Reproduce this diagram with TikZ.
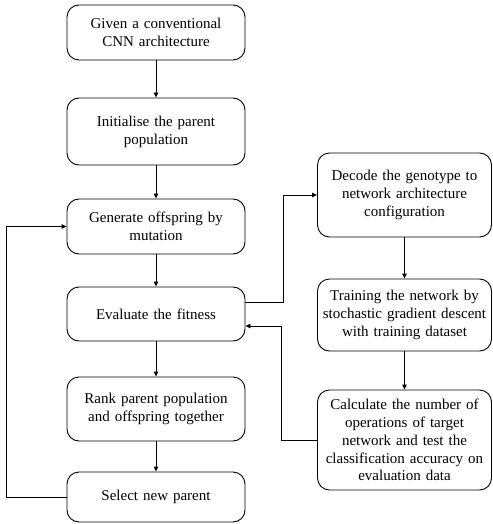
\documentclass[tikz,border=0pt]{standalone}
\usepackage{fontspec}
\setmainfont{Liberation Serif}
\usepackage{tikz}
\usetikzlibrary{calc, arrows.meta, positioning}

\tikzset{
    flowbox/.style={draw, line width=0.9pt, rounded corners=12pt, align=center,
        font=\fontsize{15}{17.8}\selectfont, inner sep=2pt},
    leftbox/.style={flowbox, minimum width=178pt, text width=172pt},
    rightbox/.style={flowbox, minimum width=173pt, text width=170pt},
    arr/.style={line width=0.9pt, -{Triangle[length=5pt, width=4.5pt]}}
}

\begin{document}
\begin{tikzpicture}[x=1pt, y=-1pt]
        \useasboundingbox (0,0) rectangle (492,524);

        % main loop
        \node[leftbox, minimum height=55pt] (given) at (156, 32.5) {Given a conventional\\CNN architecture};
        \node[leftbox, minimum height=67pt] (init) at (156, 131.5) {Initialise the parent\\population};
        \node[leftbox, minimum height=55pt] (gen) at (156, 226.5) {Generate offspring by\\mutation};
        \node[leftbox, minimum height=54pt] (eval) at (156, 314) {Evaluate the fitness};
        \node[leftbox, minimum height=64pt] (rank) at (156, 409) {Rank parent population\\and offspring together};
        \node[leftbox, minimum height=50pt] (select) at (156, 497) {Select new parent};

        % fitness evaluation
        \node[rightbox, minimum height=84pt] (decode) at (404.5, 195) {Decode the genotype to\\network architecture\\configuration};
        \node[rightbox, minimum height=72pt] (train) at (404.5, 315) {Training the network by\\stochastic gradient descent\\with training dataset};
        \node[rightbox, minimum height=100pt] (calc) at (404.5, 440) {Calculate the number of\\operations of target\\network and test the\\classification accuracy on\\evaluation data};

        \draw[arr] (given) -- (init);
        \draw[arr] (init) -- (gen);
        \draw[arr] (gen) -- (eval);
        \draw[arr] (eval) -- (rank);
        \draw[arr] (rank) -- (select);
        \draw[arr] (select.west) -- ++(-60,0) |- (gen.west);

        \coordinate (evalout) at ($(eval.east)+(0,-12)$);
        \coordinate (evalin) at ($(eval.east)+(0,12)$);
        \draw[arr] (evalout) -- ++(38,0) |- (decode.west);
        \draw[arr] (decode) -- (train);
        \draw[arr] (train) -- (calc);
        \draw[arr] (calc.west) -- ++(-36,0) |- (evalin);
    \end{tikzpicture}
\end{document}
